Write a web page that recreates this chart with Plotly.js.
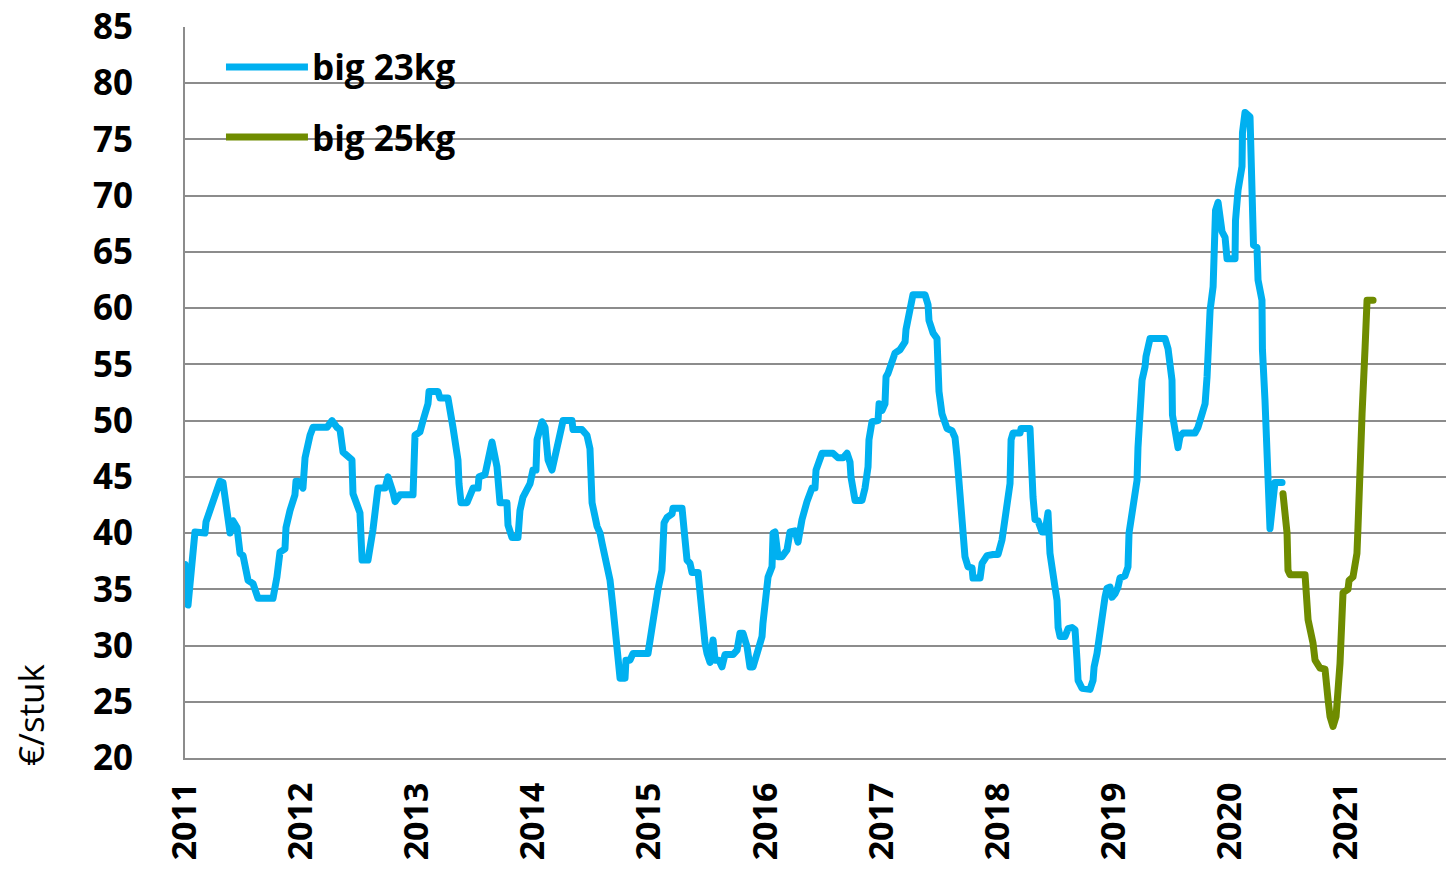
<!DOCTYPE html>
<html>
<head>
<meta charset="utf-8">
<script src="https://cdn.plot.ly/plotly-3.0.1.min.js"></script>
<style>
html,body{margin:0;padding:0;background:#fff;}
#chart{width:1446px;height:869px;}
.js-line{stroke-linejoin:round;stroke-linecap:round;}
</style>
</head>
<body>
<div id="chart"></div>
<script>
// ---- data (decimal year, €/stuk) ----
const seriesNames = ["big 23kg", "big 25kg"];
const seriesColors = ["#00B0F0", "#6F8C00"];

const years23 = [
2011.000,2011.026,2011.086,2011.172,2011.181,2011.215,2011.241,2011.301,2011.327,2011.362,
2011.388,2011.413,2011.448,2011.474,2011.500,2011.543,2011.586,2011.629,2011.758,2011.792,
2011.818,2011.861,2011.870,2011.904,2011.947,2011.956,2011.973,2012.016,2012.034,2012.077,
2012.103,2012.223,2012.266,2012.309,2012.335,2012.361,2012.404,2012.438,2012.447,2012.507,
2012.525,2012.576,2012.619,2012.662,2012.723,2012.748,2012.792,2012.809,2012.852,2012.964,
2012.981,2013.024,2013.050,2013.093,2013.102,2013.179,2013.196,2013.265,2013.308,2013.351,
2013.360,2013.377,2013.429,2013.455,2013.481,2013.524,2013.532,2013.584,2013.644,2013.687,
2013.713,2013.773,2013.782,2013.817,2013.868,2013.885,2013.911,2013.972,2013.997,2014.023,
2014.032,2014.075,2014.101,2014.127,2014.161,2014.187,2014.213,2014.256,2014.333,2014.342,
2014.419,2014.462,2014.488,2014.506,2014.549,2014.575,2014.592,2014.618,2014.661,2014.686,
2014.721,2014.730,2014.747,2014.790,2014.798,2014.833,2014.859,2014.988,2015.022,2015.048,
2015.074,2015.108,2015.117,2015.126,2015.152,2015.195,2015.203,2015.281,2015.307,2015.324,
2015.350,2015.367,2015.419,2015.436,2015.462,2015.479,2015.496,2015.522,2015.548,2015.565,
2015.599,2015.625,2015.651,2015.720,2015.755,2015.780,2015.806,2015.841,2015.866,2015.892,
2015.927,2015.970,2015.978,2015.996,2016.022,2016.056,2016.065,2016.082,2016.108,2016.142,
2016.185,2016.211,2016.254,2016.280,2016.314,2016.357,2016.400,2016.426,2016.435,2016.487,
2016.581,2016.624,2016.668,2016.702,2016.728,2016.736,2016.771,2016.831,2016.857,2016.883,
2016.891,2016.917,2016.969,2016.978,2017.003,2017.029,2017.038,2017.055,2017.090,2017.115,
2017.158,2017.202,2017.210,2017.245,2017.270,2017.374,2017.400,2017.408,2017.443,2017.477,
2017.486,2017.494,2017.520,2017.563,2017.606,2017.632,2017.649,2017.675,2017.701,2017.718,
2017.744,2017.779,2017.787,2017.848,2017.865,2017.908,2017.960,2018.003,2018.037,2018.063,
2018.089,2018.106,2018.115,2018.132,2018.192,2018.201,2018.278,2018.287,2018.304,2018.321,
2018.347,2018.382,2018.408,2018.433,2018.450,2018.493,2018.511,2018.520,2018.537,2018.580,
2018.606,2018.640,2018.666,2018.683,2018.692,2018.726,2018.795,2018.821,2018.830,2018.855,
2018.881,2018.898,2018.924,2018.941,2018.967,2018.985,2019.010,2019.036,2019.053,2019.096,
2019.122,2019.131,2019.165,2019.200,2019.208,2019.226,2019.243,2019.269,2019.277,2019.312,
2019.441,2019.467,2019.501,2019.505,2019.527,2019.553,2019.570,2019.596,2019.699,2019.725,
2019.760,2019.786,2019.803,2019.808,2019.829,2019.855,2019.872,2019.876,2019.898,2019.932,
2019.958,2019.975,2020.044,2020.048,2020.070,2020.104,2020.108,2020.130,2020.173,2020.190,
2020.199,2020.203,2020.233,2020.242,2020.276,2020.280,2020.302,2020.320,2020.328,2020.345,
2020.371,2020.388,2020.449
];
const price23 = [
37.2,33.6,40.1,40.0,41.0,42.0,43.0,44.6,44.5,41.2,
40.0,41.1,40.5,38.2,38.0,35.8,35.5,34.2,34.2,36.1,
38.3,38.6,40.5,42.0,43.4,44.6,44.6,44.0,46.7,48.7,
49.4,49.4,50.0,49.4,49.2,47.2,46.9,46.5,43.5,41.8,
37.6,37.6,40.3,44.0,44.0,45.0,43.6,42.8,43.4,43.4,
48.7,49.0,50.0,51.5,52.6,52.6,52.0,52.0,49.4,46.5,
44.4,42.7,42.7,43.5,44.0,44.0,45.0,45.2,48.1,45.9,
42.7,42.7,40.7,39.6,39.6,42.0,43.2,44.4,45.6,45.6,
48.3,49.9,49.4,46.5,45.6,46.8,48.3,50.0,50.0,49.2,
49.2,48.7,47.5,42.7,40.6,40.0,39.1,37.6,35.8,33.4,
30.2,28.1,27.1,27.1,28.7,28.7,29.3,29.3,31.6,33.8,
35.0,36.7,39.1,40.9,41.4,41.7,42.2,42.2,39.4,37.6,
37.3,36.5,36.5,34.3,32.0,30.2,29.3,28.5,30.5,28.7,
28.7,28.1,29.2,29.2,29.6,31.1,31.1,29.9,28.1,28.1,
29.3,30.8,32.0,33.8,36.1,37.0,40.0,40.1,37.9,37.9,
38.5,40.1,40.2,39.2,41.2,42.8,44.0,44.0,45.6,47.1,
47.1,46.7,46.7,47.1,46.3,45.0,42.9,42.9,44.0,45.9,
48.3,49.9,50.0,51.5,50.9,51.5,53.9,54.2,55.2,56.0,
56.3,57.0,58.1,60.0,61.2,61.2,60.3,58.9,57.8,57.3,
55.1,52.6,50.6,49.3,49.1,48.5,46.8,43.5,40.5,37.9,
37.0,36.9,36.0,36.0,37.3,38.0,38.1,38.1,39.4,41.0,
43.5,44.4,48.3,48.9,48.9,49.3,49.3,46.5,43.2,41.2,
41.1,40.1,40.1,41.8,38.2,35.2,34.0,31.6,30.8,30.8,
31.5,31.6,31.4,28.7,26.9,26.2,26.1,26.9,28.1,29.3,
31.4,33.2,34.3,35.1,35.2,34.3,34.6,35.2,36.0,36.2,
37.0,40.0,42.7,44.7,47.6,51.2,53.6,54.8,55.7,57.3,
57.3,56.4,53.6,50.5,48.6,47.6,48.6,48.9,48.9,49.4,
50.6,51.5,53.9,56.5,59.8,61.9,65.2,68.7,69.4,66.8,
66.3,64.4,64.4,67.8,70.5,72.6,75.6,77.4,77.0,72.6,
69.6,65.6,65.4,62.5,60.7,56.3,51.8,47.4,44.4,40.4,
42.9,44.5,44.5
];

const years25 = [
2020.457,2020.492,2020.500,2020.518,2020.647,2020.664,2020.673,2020.716,2020.733,2020.776,
2020.819,2020.845,2020.862,2020.888,2020.914,2020.948,2020.966,2020.974,2021.017,2021.026,
2021.060,2021.094,2021.103,2021.112,2021.138,2021.164,2021.181,2021.233
];
const price25 = [
43.5,40.0,36.7,36.3,36.3,34.3,32.3,30.2,28.7,28.0,
27.9,25.2,23.7,22.8,23.7,28.4,32.9,34.7,35.0,35.8,
36.1,38.2,40.5,44.7,50.6,56.5,60.7,60.7
];

const yearTicks = [2011,2012,2013,2014,2015,2016,2017,2018,2019,2020,2021];
const yTicks = [20,25,30,35,40,45,50,55,60,65,70,75,80,85];
const yTitle = "€/stuk";

// ---- chart ----
const FONT = "'Open Sans', 'DejaVu Sans', sans-serif";
const GRID = "#8C8C8C";

const traces = [
  {x: years23, y: price23, name: seriesNames[0], type: "scatter", mode: "lines",
   line: {color: seriesColors[0], width: 7}, hoverinfo: "skip"},
  {x: years25, y: price25, name: seriesNames[1], type: "scatter", mode: "lines",
   line: {color: seriesColors[1], width: 7}, hoverinfo: "skip"}
];

// custom legend (long sample lines like the original)
const legendY = [0.9453, 0.8495];
const shapes = seriesNames.map((n, i) => ({
  type: "line", xref: "paper", yref: "paper",
  x0: 0.0325, x1: 0.0975, y0: legendY[i], y1: legendY[i],
  line: {color: seriesColors[i], width: 7}
}));
const annotations = seriesNames.map((n, i) => ({
  xref: "paper", yref: "paper", x: 0.0990, y: legendY[i],
  xanchor: "left", yanchor: "middle", showarrow: false, text: n,
  font: {family: FONT, size: 35, color: "#000", weight: 700}
}));
annotations.push({
  xref: "paper", yref: "paper", x: -0.1230, y: 0, yshift: -10,
  xanchor: "center", yanchor: "bottom", textangle: -90, showarrow: false,
  text: yTitle, font: {family: FONT, size: 35, color: "#000"}
});

const layout = {
  width: 1446, height: 869,
  margin: {l: 185, r: 0, t: 27, b: 111, pad: 0},
  paper_bgcolor: "#fff", plot_bgcolor: "#fff",
  showlegend: false,
  font: {family: FONT, color: "#000"},
  xaxis: {
    range: [2011, 2021.861], tickmode: "array",
    tickvals: yearTicks, ticktext: yearTicks.map(String),
    tickangle: -90, ticks: "", showgrid: false, zeroline: false,
    showline: true, linecolor: GRID, linewidth: 2,
    ticklabelstandoff: 9,
    tickfont: {family: FONT, size: 34, color: "#000", weight: 700}
  },
  yaxis: {
    range: [20, 85], tickmode: "array", tickvals: yTicks,
    ticks: "", showgrid: true, gridcolor: GRID, gridwidth: 2, zeroline: false,
    showline: true, linecolor: GRID, linewidth: 2,
    ticklabelstandoff: 43,
    tickfont: {family: FONT, size: 35, color: "#000", weight: 700}
  },
  shapes: shapes,
  annotations: annotations
};

Plotly.newPlot("chart", traces, layout, {staticPlot: true, displayModeBar: false});
</script>
</body>
</html>
